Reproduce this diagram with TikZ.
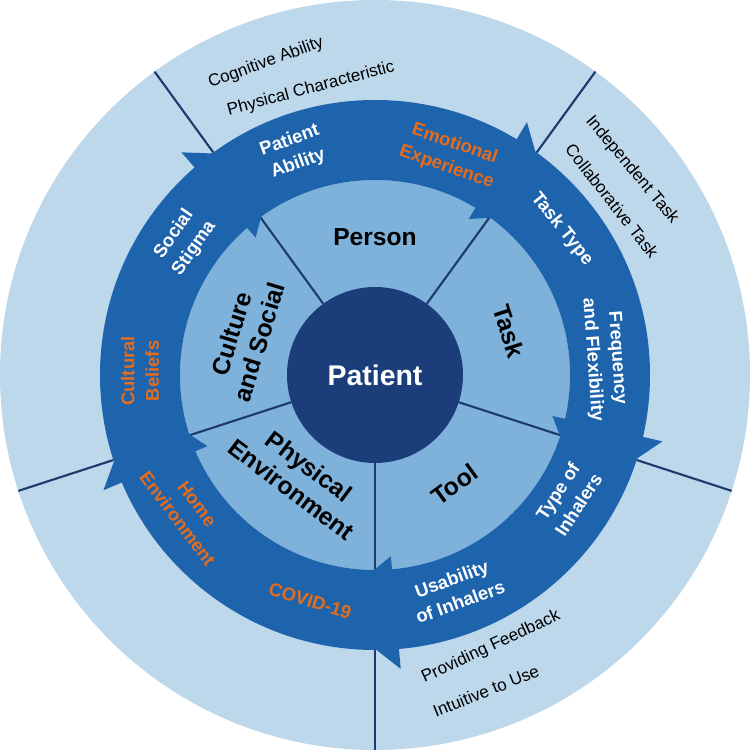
\documentclass[tikz,border=0pt]{standalone}
\usepackage{fontspec}
\setmainfont{Liberation Sans}
\definecolor{outerblue}{HTML}{BDD7EB}
\definecolor{wheelblue}{HTML}{7EB2DA}
\definecolor{bandblue}{HTML}{1E64AD}
\definecolor{corenavy}{HTML}{1B3E7B}
\definecolor{linenavy}{HTML}{1D3A6E}
\definecolor{factororange}{HTML}{E46C1C}
\tikzset{
  wheellabel/.style={font=\fontsize{14}{16.5}\selectfont\bfseries, align=center},
  bandlabel/.style={font=\fontsize{10.5}{14}\selectfont\bfseries, align=center, text=white},
  orangelabel/.style={bandlabel, text=factororange},
  outerlabel/.style={font=\fontsize{9.7}{11}\selectfont},
  divider/.style={draw=linenavy, line width=1.2pt},
}
\begin{document}
\begin{tikzpicture}[x=0.02cm, y=0.02cm]
\useasboundingbox (-375,-375) rectangle (375,375);
\fill[outerblue] (0,0) circle (375);
\fill[wheelblue] (0,0) circle (195);
\foreach \d in {54,126,198,270,342}{
  \draw[divider] (\d:88) -- (\d:195);
  \draw[divider] (\d:275) -- (\d:375);
}
\fill[bandblue, even odd rule] (0,0) circle (275) (0,0) circle (195);
\foreach \d in {54,126,198,270,342}
  \fill[bandblue] (\d+5:182) -- (\d-12:240) -- (\d+5:295) -- cycle;
\fill[corenavy] (0,0) circle (88);
\node[text=white, font=\fontsize{16.2}{18}\selectfont\bfseries] (patient) at (0,0) {Patient};

\node[wheellabel] (person) at (90:138) {Person};
\node[wheellabel, rotate=-72] (task) at (18:141) {Task};
\node[wheellabel, rotate=36] (tool) at (-54:135) {Tool};
\node[wheellabel, rotate=-37] (physenv) at (234:127) {Physical\\Environment};
\node[wheellabel, rotate=73] (culture) at (164:135) {Culture\\and Social};

\node[bandlabel, rotate=55] (stigma) at (145:233) {Social\\Stigma};
\node[bandlabel, rotate=20] (ability) at (110:237) {Patient\\Ability};
\node[orangelabel, rotate=-19] (emotion) at (71:232) {Emotional\\Experience};
\node[bandlabel, rotate=-51] (tasktype) at (38:237) {Task Type};
\node[bandlabel, rotate=-86] (frequency) at (4:230) {Frequency\\and Flexibility};
\node[bandlabel, rotate=57] (inhalers) at (-32.5:229) {Type of\\Inhalers};
\node[bandlabel, rotate=20] (usability) at (-69.4:230) {Usability\\of Inhalers};
\node[orangelabel, rotate=-17] (covid) at (254:235) {COVID-19};
\node[orangelabel, rotate=-53] (home) at (216:232) {Home\\Environment};
\node[orangelabel, rotate=90] (beliefs) at (179:235) {Cultural\\Beliefs};

\node[outerlabel, rotate=20] (cognitive) at (-109,312) {Cognitive Ability};
\node[outerlabel, rotate=15] (physical) at (-64,286) {Physical Characteristic};
\node[outerlabel, rotate=-50] (independent) at (257,205) {Independent Task};
\node[outerlabel, rotate=-52] (collaborative) at (237,174) {Collaborative Task};
\node[outerlabel, rotate=25] (feedback) at (116,-272) {Providing Feedback};
\node[outerlabel, rotate=22] (intuitive) at (111,-316) {Intuitive to Use};
\end{tikzpicture}
\end{document}
